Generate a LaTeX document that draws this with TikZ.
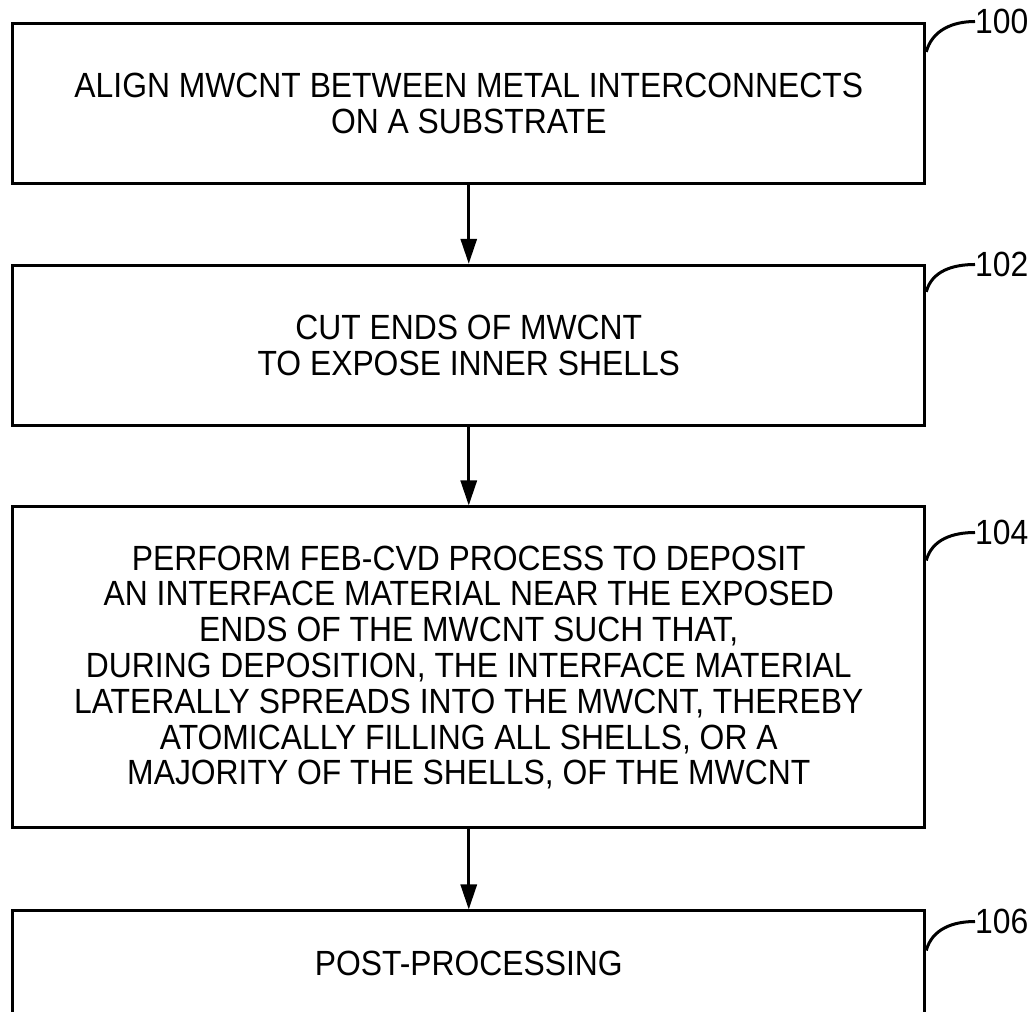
\documentclass[tikz,border=0pt]{standalone}
\usepackage{fontspec}
\setmainfont{Liberation Sans}[FakeStretch=0.91]
\usetikzlibrary{arrows.meta}

\begin{document}
\begin{tikzpicture}[x=1pt,y=1pt,
        stepbox/.style={draw, line width=3pt, minimum width=912pt, inner sep=0pt,
                align=center, font=\fontsize{35}{35.8}\selectfont},
        reflabel/.style={anchor=west, inner sep=0pt, font=\fontsize{35}{35.8}\selectfont},
        leader/.style={line width=3pt}]
        \useasboundingbox (0,0) rectangle (1034,1012);

        % steps
        \node [stepbox, minimum height=160pt] (align) at (468.75,908.6)
                {ALIGN MWCNT BETWEEN METAL INTERCONNECTS\\ON A SUBSTRATE};
        \node [stepbox, minimum height=160pt] (cut) at (468.75,666.7)
                {CUT ENDS OF MWCNT\\TO EXPOSE INNER SHELLS};
        \node [stepbox, minimum height=321pt] (febcvd) at (468.75,344.5)
                {PERFORM FEB-CVD PROCESS TO DEPOSIT\\AN INTERFACE MATERIAL NEAR THE EXPOSED\\ENDS OF THE MWCNT SUCH THAT,\\DURING DEPOSITION, THE INTERFACE MATERIAL\\LATERALLY SPREADS INTO THE MWCNT, THEREBY\\ATOMICALLY FILLING ALL SHELLS, OR A\\MAJORITY OF THE SHELLS, OF THE MWCNT};
        \node [stepbox, minimum height=110pt, text depth=6pt] (post) at (468.75,46)
                {POST-PROCESSING};

        \draw [line width=3pt, -{Triangle[length=25pt,width=16pt]}] (align) -- (cut);
        \draw [line width=3pt, -{Triangle[length=25pt,width=16pt]}] (cut) -- (febcvd);
        \draw [line width=3pt, -{Triangle[length=25pt,width=16pt]}] (febcvd) -- (post);

        % reference numerals
        \node [reflabel] (l100) at (975,990.5) {100};
        \node [reflabel] (l102) at (975,747.5) {102};
        \node [reflabel] (l104) at (975,479.5) {104};
        \node [reflabel] (l106) at (975,90.5) {106};

        \draw [leader] ([yshift=-30pt]align.north east) to[out=75,in=180] (l100.west);
        \draw [leader] ([yshift=-28pt]cut.north east) to[out=75,in=180] (l102.west);
        \draw [leader] ([yshift=-55pt]febcvd.north east) to[out=75,in=180] (l104.west);
        \draw [leader] ([yshift=-41pt]post.north east) to[out=75,in=180] (l106.west);
\end{tikzpicture}
\end{document}
